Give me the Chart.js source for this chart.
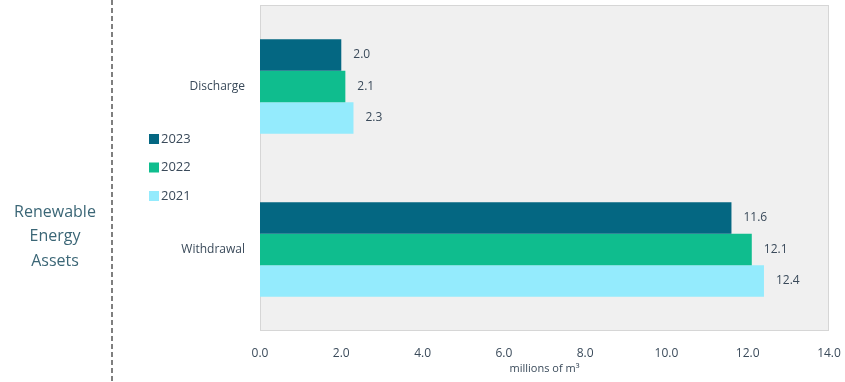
<!DOCTYPE html>
<html><head><meta charset="utf-8">
<script src="https://cdn.jsdelivr.net/npm/chart.js@4"></script>
<style>html,body{margin:0;padding:0;background:#fff}#wrap{width:845px;height:382px}</style>
</head><body><div id="wrap"><canvas id="c"></canvas></div>
<script>
const categories = ["Discharge", "Withdrawal"];
const seriesNames = ["2023", "2022", "2021"];
const values2023 = [2.0, 11.6];
const values2022 = [2.1, 12.1];
const values2021 = [2.3, 12.4];
const xTicks = [0, 2, 4, 6, 8, 10, 12, 14];
const groupLabel = ["Renewable", "Energy", "Assets"];
const axisTitle = "millions of m³";

const colors = ["#046782", "#0fbd8e", "#94ebfd"];
const textColor = "#3a4a5a";
const FONT = "'Open Sans', 'Noto Sans', sans-serif";

const decor = {
  id: "decor",
  beforeDatasetsDraw(chart) {
    const {ctx, chartArea: a} = chart;
    ctx.save();
    ctx.fillStyle = "#f0f0f0";
    ctx.fillRect(a.left, a.top, a.right - a.left, a.bottom - a.top);
    ctx.strokeStyle = "#d6d6d6";
    ctx.lineWidth = 1;
    ctx.strokeRect(a.left + 0.5, a.top + 0.5, a.right - a.left - 1, a.bottom - a.top - 1);
    ctx.restore();
  },
  afterDraw(chart) {
    const {ctx} = chart;
    ctx.save();
    ctx.strokeStyle = "#555";
    ctx.lineWidth = 1.5;
    ctx.setLineDash([5, 3]);
    ctx.beginPath();
    ctx.moveTo(112, 0);
    ctx.lineTo(112, 382);
    ctx.stroke();
    ctx.setLineDash([]);
    ctx.fillStyle = "#3b6676";
    ctx.font = "16px " + FONT;
    ctx.textAlign = "center";
    ctx.textBaseline = "middle";
    groupLabel.forEach((t, i) => ctx.fillText(t, 55, 212 + i * 24.5));
    ctx.font = "13px " + FONT;
    ctx.textAlign = "left";
    seriesNames.forEach((n, i) => {
      const y = 139 + i * 28.5;
      ctx.fillStyle = colors[i];
      ctx.fillRect(149, y - 5, 10, 10);
      ctx.fillStyle = textColor;
      ctx.fillText(n, 161, y);
    });
    ctx.font = "12px " + FONT;
    ctx.fillStyle = textColor;
    ctx.textBaseline = "middle";
    chart.data.datasets.forEach((ds, di) => {
      const meta = chart.getDatasetMeta(di);
      meta.data.forEach((bar, i) => {
        ctx.fillText(ds.data[i].toFixed(1), bar.x + 12, bar.y);
      });
    });
    ctx.restore();
  }
};

new Chart(document.getElementById("c"), {
  type: "bar",
  data: {
    labels: categories,
    datasets: [
      {label: seriesNames[0], data: values2023, backgroundColor: colors[0]},
      {label: seriesNames[1], data: values2022, backgroundColor: colors[1]},
      {label: seriesNames[2], data: values2021, backgroundColor: colors[2]}
    ]
  },
  options: {
    indexAxis: "y",
    responsive: true,
    maintainAspectRatio: false,
    animation: false,
    layout: {padding: {left: 0, right: 16, top: 5, bottom: 0}},
    datasets: {bar: {categoryPercentage: 0.58, barPercentage: 1.0}},
    plugins: {legend: {display: false}, tooltip: {enabled: false}},
    scales: {
      x: {
        min: 0, max: 14,
        afterBuildTicks(scale) { scale.ticks = xTicks.map(v => ({value: v})); },
        afterFit(scale) { scale.height = 51; scale.paddingLeft = 0; scale.paddingRight = 0; },
        grid: {display: false, drawTicks: false},
        border: {display: false},
        ticks: {padding: 15, color: textColor, font: {family: FONT, size: 12}, callback: v => Number(v).toFixed(1)},
        title: {display: true, text: axisTitle, color: textColor, font: {family: FONT, size: 11}, padding: {top: 0, bottom: 7}}
      },
      y: {
        grid: {display: false, drawTicks: false},
        border: {display: false},
        afterFit(scale) { scale.width = 260; scale.paddingTop = 0; scale.paddingBottom = 0; },
        ticks: {padding: 15, color: textColor, font: {family: FONT, size: 12}}
      }
    }
  },
  plugins: [decor]
});
</script></body></html>
